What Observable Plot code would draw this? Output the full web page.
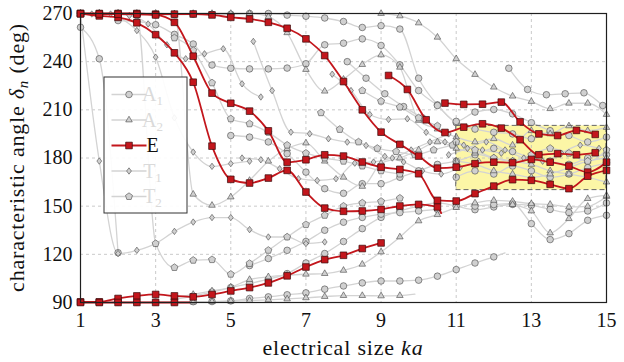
<!DOCTYPE html>
<html>
<head>
<meta charset="utf-8">
<script src="https://cdn.jsdelivr.net/npm/d3@7"></script>
<script src="https://cdn.jsdelivr.net/npm/@observablehq/plot@0.6"></script>
<style>
  body { margin: 0; background: #fff; }
  #chart { width: 624px; height: 362px; }
  #chart svg, #chart svg text { font-family: "Liberation Serif", serif; }
</style>
</head>
<body>
<div id="chart"></div>
<script>
// ---- axes ----
const xTicks = [1, 3, 5, 7, 9, 11, 13, 15];
const yTicks = [90, 120, 150, 180, 210, 240, 270];
const zoneKa = [11, 15];      // highlighted band, ka range
const zoneDeg = [160, 200];   // highlighted band, angle range

// ---- characteristic angles, sampled every 0.5 in ka from ka0 ----
// E modes (red)
const E1 = { ka0: 1, deg: [270,270,270,270,269.6,269.6,269.7,269.1,267.6,266.6,264.5,260.8,254.2,243.8,227.6,210,196.1,188.5,181.2,173.7,174.3,176.5,177.4,177.1,179.1,177.4,175,171.2,177.4] };
const E2 = { ka0: 1, deg: [270,268.5,267.6,264.2,256.8,245.5,227.2,187.4,166.7,164.4,167.5,172.3,158.8,148.8,146.8,147,148,150.1,151.1,149.5], end: [10.6,145.7] };
const E3 = { ka0: 1, deg: [269.8,269.7,269.6,269.5,269.1,264.5,243.4,220.4,214.1,209.2,196.9,177.4,178.9,182,181.2,177.5,174.3,172.9,170.2,153.6,153.2,157.8,162.5,166.5,166.1,163.6,160.9,168.7,172.3] };
const E4 = { ka0: 9.2, deg: [231.4,222.7,203.8,195.9,199.2,201.3,198.6,191.4,182,182.7,182,183.3] };
const E5 = { ka0: 1, deg: [90.4,90.4,92.5,94.1,95,94.1,93.5,95,97.2,99.3,102.2,106.6,112.1,116.7,119.4,123.6,127.1] };
const E6 = { ka0: 1, deg: [90,90,90,90,90,90], end: [3.9,90] };
const E7 = { ka0: 10.7, deg: [214.2,213.4,213.5,214.8,202.5,195,194,197.2,194.7] };

// A1 modes (circles)
const A1_a = { ka0: 1, deg: [270,270,269.5,269.5,269,269.3,269.5,269.5,269.5,270,270,269,268.3,267.2,265,261.3,262.4,260.3,229.7,213.1,202,198,196,195,192,196,194,190,193] };
const A1_b = { ka0: 1, deg: [261.4,241.8,121] };
const A1_c = { ka0: 2, deg: [265.6,265,263,257,251,237.9,235.9,235.5,235.5,236,238.7,250.5,251.5,254.2,250.1,238,222,212.7,202.8,208.6,210.2,207.5,202,197] };
const A1_d = { ka0: 12.4, deg: [235.9,222.7,219.4,220,220.6,212.7], end: [15,211] };
const A1_e = { ka0: 5, deg: [194,193,190,182.7,171.2,160.9,158,164,164,168,172,176,178,182,186,184,180,178,176,180,182] };
const A1_f = { ka0: 3.5, deg: [92,94,96.5,99.3,101.8,104.5,108,114.6,120.5,128,136,143,147,150,152,150,147.8,149.5,151.1,150.5,148,146,147,152] };
const A1_g = { ka0: 11.5, deg: [150,151,151.6,139.1,129.2,132.9,141.2,144.3] };
const A1_h = { ka0: 5.5, deg: [113,117.4,122.5,128,135,140,143,145,146,147,148] };
const A1_i = { ka0: 11, deg: [168,172,170,175,172,168,170,174,177] };
const A1_j = { ka0: 8.1, deg: [240,229.7,220,212,205] };
const A1_k = { ka0: 2, deg: [90.2,90.2,90.3,90.3,90.5,90.6,91,92.5,93.5,94.8,96,98.3,100.3,102.2,103.4,103.4,103.9,106.4,110.5,114.6,118.4], end: [12.3,120.9] };

// A2 modes (triangles)
const A2_a = { ka0: 9, deg: [270,268.5,264.1,255.2,241.8,232,224.1,218.5,215.2,210.7,214.1,214.1,207.1] };
const A2_b = { ka0: 1, deg: [270,270,270,270,270,269.7,270,270,270,270,268,258,235.1,221.6,229,238.2,244.2,236.5,203.4,198,193,190,192,188,197,195,200,197,199] };
const A2_c = { ka0: 3.5, deg: [93,95,97.2,99.5,104.3,106,107,107.6,108,110,113.8,121.5,130.8,140.8,144.7,149.1,152,153.6,153,151.5,151.1,149.5,149.9,156] };
const A2_d = { ka0: 3.5, deg: [90,90.3,90.5,90.8,91.2,91.6,92.2,92.9,93.7,94.3,94.3,94.1,94.3], end: [9.9,95.2] };
const A2_e = { ka0: 12.5, deg: [151,147,133.3,142.2,154.7,156.7] };
const A2_f = { ka0: 1, deg: [270,270,270,270,270,269.5,157.4,150.5,155.7,166,178,185.8,189.3,178,168,162.3,176.7,180,185,190,186,183,180,178,176,172,170,168,165] };
const A2_g = { ka0: 11, deg: [178,176,172,170,168,170,174,178,180] };

// T1 modes (diamonds)
const T1_a = { ka0: 1, deg: [270,178.1,120.5,122.5,126.7,134.3,140.1,142.9,142.9,135.4,130.8,130.8,126.7,127.7] };
const T1_b = { ka0: 1.3, deg: [269.7,269.7,268.7,263.5,250.5,241.8,244.9,248,226.2,218] };
const T1_c = { ka0: 2, deg: [268,259.4,242.8,205,183.7,174.8,176.5,178] };
const T1_d = { ka0: 5.3, deg: [180,178.9,173.3,167.1,166,167.1,176.8,177.5,180,185,190,195] };
const T1_e = { ka0: 5.6, deg: [252.6,222,196.1,195.1,192,189.9,187.8,181,177.5,172,170,174,178] };
const T1_f = { ka0: 7.7, deg: [232.2,222,207.1,204,204.4,196,190,188,185,183] };
const T1_g = { ka0: 10.8, deg: [182,186,190,185,180,178,183,188,186] };

// T2 modes (pentagons)
const T2_a = { ka0: 1, deg: [270,270,270,269,126.7,111.8,116.3,116.7,107.6,114.3,122.5,130.8,138.5,144.3,150,152,153,155] };
const T2_b = { ka0: 3.5, deg: [254.8,247,226.8,204.4,201.3,196,188,183,180,178,175,172,170] };
const T2_c = { ka0: 7.4, deg: [208.2,197.8,190,186,184,182,185,188] };
const T2_d = { ka0: 11, deg: [190,185,180,178,182,186,183,178,185] };
const T2_e = { ka0: 8.5, deg: [222,215.4,211.7,205,200] };

const eModes  = { E1, E2, E3, E4, E5, E6, E7 };
const a1Modes = { A1_a, A1_b, A1_c, A1_d, A1_e, A1_f, A1_g, A1_h, A1_i, A1_j, A1_k };
const a2Modes = { A2_a, A2_b, A2_c, A2_d, A2_e, A2_f, A2_g };
const t1Modes = { T1_a, T1_b, T1_c, T1_d, T1_e, T1_f, T1_g };
const t2Modes = { T2_a, T2_b, T2_c, T2_d, T2_e };

// ---- marker shapes ----
const rad = (size) => Math.sqrt(size / Math.PI);
const circleSym = { draw(c, s) { const r = rad(s); c.moveTo(r, 0); c.arc(0, 0, r, 0, 2 * Math.PI); } };
const triangleSym = { draw(c, s) { const r = rad(s) * 1.15; c.moveTo(0, -r); c.lineTo(r * 0.866, r * 0.5); c.lineTo(-r * 0.866, r * 0.5); c.closePath(); } };
const diamondSym = { draw(c, s) { const r = rad(s); c.moveTo(0, -r); c.lineTo(r * 0.75, 0); c.lineTo(0, r); c.lineTo(-r * 0.75, 0); c.closePath(); } };
const pentagonSym = { draw(c, s) { const r = rad(s) * 1.05; for (let i = 0; i < 5; i++) { const a = -Math.PI / 2 + i * 2 * Math.PI / 5; const x = r * Math.cos(a), y = r * Math.sin(a); if (i) c.lineTo(x, y); else c.moveTo(x, y); } c.closePath(); } };
const squareSym = { draw(c, s) { const h = rad(s) * 0.95; c.rect(-h, -h, 2 * h, 2 * h); } };

// ---- tidy rows ----
function expand(group) {
  const rows = [];
  for (const [id, s] of Object.entries(group)) {
    s.deg.forEach((d, i) => rows.push({ id, ka: s.ka0 + i * 0.5, deg: d, marked: true }));
    if (s.end) rows.push({ id, ka: s.end[0], deg: s.end[1], marked: false });
  }
  return rows;
}
const eRows = expand(eModes);
const grayGroups = [
  { rows: expand(a1Modes), sym: circleSym, r: 3.3 },
  { rows: expand(a2Modes), sym: triangleSym, r: 3.3 },
  { rows: expand(t1Modes), sym: diamondSym, r: 3.2 },
  { rows: expand(t2Modes), sym: pentagonSym, r: 3.5 }
];
const grayRows = grayGroups.flatMap(g => g.rows);

const FONT = "Liberation Serif, serif";
const GRAY_LINE = "#d3d3d3";
const GRAY_FILL = "#d0d0d0";
const GRAY_EDGE = "#484848";
const RED = "#c3161c";

const marks = [
  Plot.rect([{ x1: zoneKa[0], x2: zoneKa[1], y1: zoneDeg[0], y2: zoneDeg[1] }],
    { x1: "x1", x2: "x2", y1: "y1", y2: "y2", fill: "#fcf6a6" }),
  Plot.gridX({ ticks: xTicks, stroke: "#bdbdbd", strokeOpacity: 1, strokeWidth: 0.8, strokeDasharray: "3,3" }),
  Plot.gridY({ ticks: yTicks, stroke: "#bdbdbd", strokeOpacity: 1, strokeWidth: 0.8, strokeDasharray: "3,3" }),
  Plot.line(grayRows, { x: "ka", y: "deg", z: "id", stroke: GRAY_LINE, strokeWidth: 1.3, curve: "monotone-x" }),
  ...grayGroups.map(g => Plot.dot(g.rows.filter(d => d.marked),
    { x: "ka", y: "deg", symbol: g.sym, r: g.r, fill: GRAY_FILL, stroke: GRAY_EDGE, strokeWidth: 0.6 })),
  Plot.rect([{ x1: zoneKa[0], x2: zoneKa[1], y1: zoneDeg[0], y2: zoneDeg[1] }],
    { x1: "x1", x2: "x2", y1: "y1", y2: "y2", fill: "none", stroke: "#666", strokeWidth: 1, strokeDasharray: "5,3" }),
  Plot.line(eRows, { x: "ka", y: "deg", z: "id", stroke: RED, strokeWidth: 1.8, curve: "monotone-x" }),
  Plot.dot(eRows.filter(d => d.marked), { x: "ka", y: "deg", symbol: squareSym, r: 3.5, fill: RED, stroke: "#3a0a0a", strokeWidth: 0.7 }),
  Plot.frame({ stroke: "#1f1f1f", strokeWidth: 1.2 }),
  Plot.axisX({ ticks: xTicks, tickSize: 0, tickPadding: 10, label: null, fontSize: 20, fontFamily: FONT }),
  Plot.axisY({ ticks: yTicks, tickSize: 0, tickPadding: 8, label: null, fontSize: 20, fontFamily: FONT })
];

const svg = Plot.plot({
  width: 624, height: 362,
  marginTop: 13, marginRight: 18, marginBottom: 60, marginLeft: 80,
  style: { background: "#fff", color: "#111" },
  x: { domain: [1, 15], label: null },
  y: { domain: [90, 270], label: null },
  marks
});
svg.setAttribute("font-family", FONT);

// ---- axis titles ----
const root = d3.select(svg);
const xt = root.append("text")
  .attr("x", (80 + 606) / 2).attr("y", 355)
  .attr("text-anchor", "middle").attr("font-family", FONT).attr("font-size", 22)
  .attr("letter-spacing", 0.8).attr("fill", "#111");
xt.append("tspan").text("electrical size ");
xt.append("tspan").attr("font-style", "italic").text("ka");

const yt = root.append("text")
  .attr("transform", "translate(24,157.5) rotate(-90)")
  .attr("text-anchor", "middle").attr("font-family", FONT).attr("font-size", 22)
  .attr("letter-spacing", 0.8).attr("fill", "#111");
yt.append("tspan").text("characteristic angle ");
yt.append("tspan").attr("font-style", "italic").text("δ");
yt.append("tspan").attr("font-style", "italic").attr("font-size", 15).attr("dy", 4).text("n");
yt.append("tspan").attr("dy", -4).text(" (deg)");

// ---- legend ----
const legendItems = [
  { name: "A", sub: "1", sym: circleSym, r: 3.3, red: false },
  { name: "A", sub: "2", sym: triangleSym, r: 3.3, red: false },
  { name: "E", sub: "", sym: squareSym, r: 3.5, red: true },
  { name: "T", sub: "1", sym: diamondSym, r: 3.2, red: false },
  { name: "T", sub: "2", sym: pentagonSym, r: 3.5, red: false }
];
const lg = root.append("g").attr("transform", "translate(104,77)");
lg.append("rect").attr("width", 83).attr("height", 136)
  .attr("fill", "#fff").attr("fill-opacity", 0.92).attr("stroke", "#333").attr("stroke-width", 1);
legendItems.forEach((it, i) => {
  const y = 17.5 + i * 25.5;
  const g = lg.append("g").attr("transform", `translate(0,${y})`);
  g.append("line").attr("x1", 7.5).attr("x2", 42.5).attr("y1", 0).attr("y2", 0)
    .attr("stroke", it.red ? RED : GRAY_LINE).attr("stroke-width", it.red ? 1.8 : 1.3);
  g.append("path").attr("transform", "translate(25,0)")
    .attr("d", d3.symbol(it.sym, it.r * it.r * Math.PI)())
    .attr("fill", it.red ? RED : GRAY_FILL)
    .attr("stroke", it.red ? "#3a0a0a" : GRAY_EDGE).attr("stroke-width", it.red ? 0.7 : 0.6);
  const t = g.append("text").attr("x", 48.5).attr("y", 6.5)
    .attr("font-family", FONT).attr("font-size", 20)
    .attr("fill", it.red ? "#111" : "#dadada");
  t.append("tspan").text(it.name);
  if (it.sub) t.append("tspan").attr("font-size", 13).attr("dy", 4).text(it.sub);
});

document.getElementById("chart").appendChild(svg);
</script>
</body>
</html>
